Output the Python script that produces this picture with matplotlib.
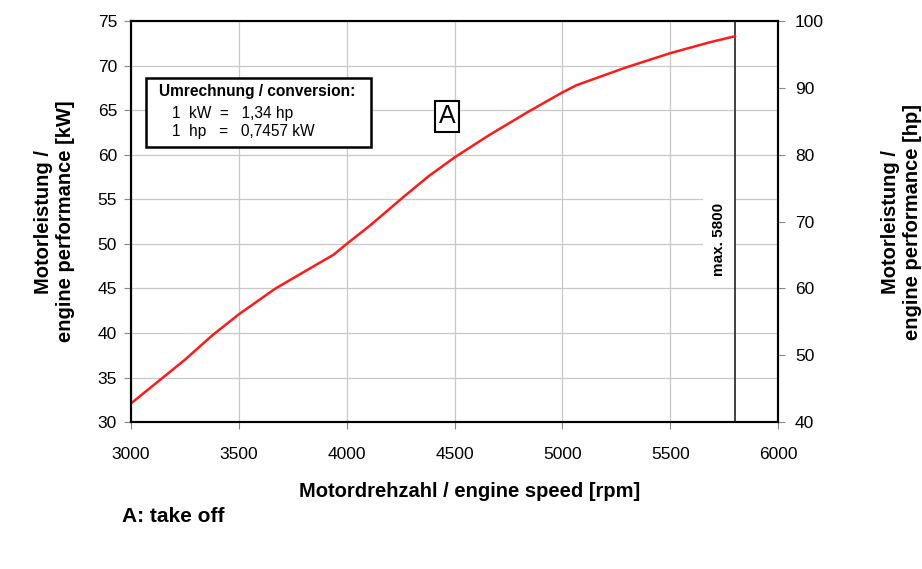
import matplotlib.pyplot as plt

plt.rcParams['font.family'] = ['Liberation Sans', 'DejaVu Sans']

# data
rpm = [3000, 3250, 3380, 3500, 3670, 3940, 4000, 4110, 4260, 4380, 4500,
       4660, 4840, 5000, 5065, 5295, 5500, 5680, 5800]
kw = [32.1, 37.0, 39.8, 42.1, 45.0, 48.8, 50.0, 52.1, 55.2, 57.6, 59.7,
      62.2, 64.8, 67.0, 67.8, 69.8, 71.4, 72.6, 73.3]
x_ticks = [3000, 3500, 4000, 4500, 5000, 5500, 6000]
kw_ticks = [30, 35, 40, 45, 50, 55, 60, 65, 70, 75]
hp_ticks = [40, 50, 60, 70, 80, 90, 100]
max_rpm = 5800

fig = plt.figure(figsize=(9.22, 5.69), dpi=100)
ax = fig.add_axes([0.142, 0.258, 0.702, 0.705])

ax.plot(rpm, kw, color='#ff1a1a', lw=1.8, zorder=3)
ax.axvline(max_rpm, color='#333333', lw=1.3, zorder=2)

ax.set_xlim(3000, 6000)
ax.set_ylim(30, 75)
ax.set_xticks(x_ticks)
ax.set_yticks(kw_ticks)
ax.grid(True, color='#c8c8c8', lw=0.9)
ax.set_axisbelow(True)
ax.tick_params(labelsize=12.5, length=5, width=0.8, color='#888888')
ax.tick_params(axis='x', pad=13)
ax.tick_params(axis='y', pad=5)
for s in ax.spines.values():
    s.set_linewidth(1.5)

ax.set_xlabel("Motordrehzahl / engine speed [rpm]", fontsize=14.5,
              fontweight='bold', labelpad=14)
ax.xaxis.set_label_coords(0.524, -0.15)
ax.set_ylabel("Motorleistung /\nengine performance [kW]", fontsize=14.5,
              fontweight='bold', labelpad=16)

ax2 = ax.twinx()
ax2.set_ylim(40, 100)
ax2.set_yticks(hp_ticks)
ax2.tick_params(labelsize=12.5, length=5, width=0.8, color='#888888', pad=7)
ax2.set_ylabel("Motorleistung /\nengine performance [hp]", fontsize=14.5,
               fontweight='bold', labelpad=41)
for s in ax2.spines.values():
    s.set_linewidth(1.5)

# max rpm label
ax.text(max_rpm - 75, 50.5, "max. 5800", rotation=90, ha='center', va='center',
        fontsize=11, fontweight='bold',
        bbox=dict(facecolor='white', edgecolor='none', pad=6), zorder=4)

# conversion box
ax.text(3130, 67.1, "Umrechnung / conversion:", fontsize=11.2, fontweight='bold',
        va='center', zorder=5)
ax.text(3190, 64.6, "1  kW  =   1,34 hp", fontsize=11.2, va='center', zorder=5)
ax.text(3190, 62.6, "1  hp   =   0,7457 kW", fontsize=11.2, va='center', zorder=5)
ax.add_patch(plt.Rectangle((3072, 60.9), 1041, 7.7, facecolor='white',
                           edgecolor='black', lw=1.8, zorder=4))

ax.text(4465, 64.3, "A", fontsize=18, ha='center', va='center',
        bbox=dict(facecolor='white', edgecolor='black', lw=1.5, pad=2.5), zorder=5)

fig.text(0.132, 0.093, "A: take off", fontsize=15, fontweight='bold', va='center')

fig.savefig("out.png", dpi=100)
